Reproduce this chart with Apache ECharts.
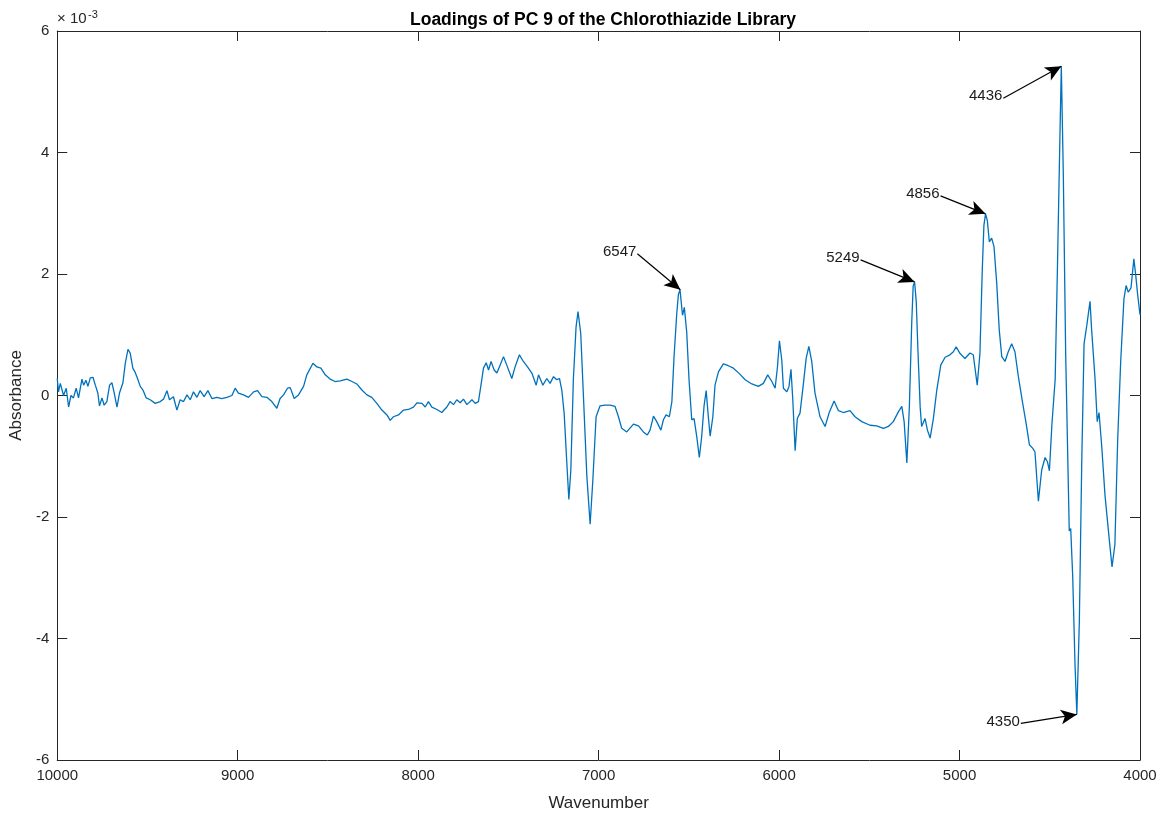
<!DOCTYPE html>
<html>
<head>
<meta charset="utf-8">
<script src="https://cdn.jsdelivr.net/npm/echarts@6/dist/echarts.min.js"></script>
<style>
html, body { margin: 0; padding: 0; background: #fff; }
#main { width: 1171px; height: 817px; }
</style>
</head>
<body>
<div id="main"></div>
<script>
// wavenumber (cm-1) and PC 9 loading, loading in units of 1e-3
var wavenumbers = [
  10000, 9993, 9983, 9965, 9950, 9937, 9924, 9910, 9895, 9882, 9863, 9854, 9841, 9830, 9817, 9802,
  9789, 9775, 9766, 9752, 9740, 9725, 9710, 9697, 9684, 9669, 9655, 9636, 9623, 9608, 9596, 9581,
  9568, 9555, 9540, 9525, 9507, 9485, 9457, 9429, 9411, 9392, 9378, 9356, 9337, 9319, 9300, 9281,
  9263, 9245, 9226, 9208, 9186, 9165, 9143, 9115, 9088, 9060, 9032, 9014, 8996, 8968, 8940, 8912,
  8890, 8866, 8838, 8811, 8783, 8765, 8746, 8724, 8709, 8687, 8663, 8635, 8617, 8583, 8561, 8539,
  8515, 8488, 8460, 8432, 8395, 8367, 8340, 8312, 8284, 8257, 8229, 8201, 8173, 8155, 8137, 8109,
  8081, 8054, 8026, 8007, 7979, 7961, 7943, 7924, 7896, 7869, 7841, 7823, 7804, 7786, 7767, 7749,
  7730, 7702, 7684, 7666, 7653, 7638, 7623, 7610, 7596, 7579, 7564, 7550, 7527, 7509, 7481, 7463,
  7439, 7417, 7394, 7370, 7346, 7333, 7309, 7287, 7269, 7250, 7232, 7217, 7204, 7191, 7176, 7165,
  7154, 7140, 7125, 7114, 7099, 7084, 7065, 7047, 7032, 7014, 6992, 6964, 6936, 6909, 6890, 6872,
  6844, 6807, 6779, 6752, 6730, 6715, 6696, 6678, 6655, 6641, 6626, 6608, 6594, 6582, 6567, 6558,
  6549, 6541, 6535, 6525, 6512, 6499, 6484, 6471, 6456, 6442, 6429, 6416, 6404, 6392, 6382, 6367,
  6355, 6336, 6309, 6281, 6253, 6220, 6188, 6151, 6115, 6087, 6063, 6040, 6022, 6009, 5998, 5985,
  5976, 5957, 5945, 5934, 5924, 5911, 5899, 5884, 5865, 5850, 5835, 5819, 5801, 5773, 5745, 5721,
  5695, 5671, 5644, 5607, 5579, 5542, 5496, 5459, 5422, 5394, 5367, 5339, 5320, 5307, 5292, 5278,
  5265, 5257, 5249, 5240, 5230, 5218, 5210, 5191, 5178, 5163, 5145, 5126, 5104, 5080, 5053, 5034,
  5019, 4997, 4970, 4942, 4924, 4902, 4887, 4874, 4865, 4856, 4846, 4835, 4822, 4809, 4794, 4780,
  4766, 4748, 4730, 4711, 4693, 4674, 4650, 4631, 4613, 4594, 4582, 4563, 4545, 4526, 4513, 4502,
  4488, 4470, 4457, 4443, 4436, 4425, 4412, 4397, 4392, 4384, 4373, 4360, 4350, 4336, 4323, 4310,
  4295, 4277, 4268, 4249, 4237, 4227, 4212, 4194, 4170, 4155, 4139, 4124, 4107, 4089, 4077, 4065,
  4050, 4034, 4023, 4013, 4000
];
var loadings = [
  0.28, 0.06, 0.2, 0.0, 0.12, -0.19, 0.0, -0.04, 0.12, -0.04, 0.27, 0.17, 0.25, 0.15, 0.29, 0.3,
  0.17, 0.04, -0.17, -0.04, -0.16, -0.1, 0.17, 0.21, 0.04, -0.19, 0.04, 0.21, 0.53, 0.76, 0.7, 0.45,
  0.38, 0.28, 0.15, 0.09, -0.04, -0.07, -0.13, -0.1, -0.06, 0.08, -0.07, -0.02, -0.24, -0.07, -0.1, 0.01,
  -0.07, 0.06, -0.03, 0.08, -0.02, 0.08, -0.05, -0.03, -0.05, -0.03, 0.0, 0.12, 0.04, 0.01, -0.03, 0.06,
  0.08, -0.02, -0.03, -0.1, -0.21, -0.05, 0.01, 0.12, 0.13, -0.05, 0.01, 0.15, 0.34, 0.53, 0.47, 0.45,
  0.34, 0.27, 0.23, 0.24, 0.27, 0.23, 0.19, 0.09, 0.01, -0.03, -0.13, -0.24, -0.32, -0.41, -0.35, -0.32,
  -0.24, -0.23, -0.19, -0.12, -0.13, -0.19, -0.1, -0.19, -0.23, -0.28, -0.19, -0.1, -0.15, -0.07, -0.12, -0.06,
  -0.15, -0.07, -0.13, -0.1, 0.15, 0.45, 0.54, 0.42, 0.56, 0.42, 0.37, 0.47, 0.64, 0.5, 0.28, 0.47,
  0.67, 0.56, 0.47, 0.37, 0.17, 0.34, 0.17, 0.28, 0.2, 0.31, 0.26, 0.28, 0.09, -0.29, -1.12, -1.71,
  -1.23, 0.26, 1.13, 1.38, 1.02, -0.02, -1.34, -2.12, -1.39, -0.35, -0.17, -0.16, -0.16, -0.18, -0.35, -0.54,
  -0.6, -0.47, -0.5, -0.6, -0.65, -0.57, -0.34, -0.43, -0.57, -0.4, -0.32, -0.35, -0.1, 0.64, 1.35, 1.66,
  1.74, 1.5, 1.32, 1.45, 1.05, 0.26, -0.4, -0.38, -0.68, -1.02, -0.68, -0.18, 0.08, -0.35, -0.67, -0.35,
  0.17, 0.39, 0.52, 0.49, 0.45, 0.36, 0.26, 0.19, 0.15, 0.2, 0.34, 0.23, 0.12, 0.47, 0.9, 0.58,
  0.12, 0.06, 0.15, 0.43, -0.07, -0.91, -0.38, -0.29, 0.2, 0.61, 0.81, 0.56, 0.04, -0.35, -0.51, -0.27,
  -0.09, -0.25, -0.28, -0.25, -0.35, -0.43, -0.49, -0.5, -0.54, -0.51, -0.43, -0.27, -0.18, -0.43, -1.11, -0.18,
  1.19, 1.8, 1.87, 1.55, 0.7, -0.2, -0.51, -0.38, -0.57, -0.7, -0.38, 0.09, 0.5, 0.63, 0.67, 0.72,
  0.8, 0.69, 0.61, 0.7, 0.67, 0.17, 0.69, 2.07, 2.8, 2.99, 2.88, 2.53, 2.59, 2.45, 1.85, 1.08,
  0.64, 0.56, 0.72, 0.85, 0.72, 0.31, -0.13, -0.46, -0.81, -0.87, -0.93, -1.74, -1.23, -1.02, -1.09, -1.24,
  -0.47, 0.27, 2.18, 4.38, 5.42, 3.65, 0.71, -1.5, -2.23, -2.19, -2.97, -4.44, -5.25, -3.7, -1.13, 0.85,
  1.15, 1.55, 1.08, 0.27, -0.43, -0.28, -0.84, -1.64, -2.38, -2.82, -2.45, -0.76, 0.56, 1.59, 1.81, 1.7,
  1.77, 2.25, 1.96, 1.66, 1.33
];

// annotated peaks
var peakWavenumbers = [6547, 5249, 4856, 4436, 4350];
var peakLoadings = [1.74, 1.87, 2.99, 5.42, -5.25];
var peakLabels = ['6547', '5249', '4856', '4436', '4350'];
// where each arrow's tail sits, in pixels from its tip
var arrowTailOffsets = [[-43, -36], [-54, -22], [-45, -18], [-58, 32], [-56, 9]];

var axisColor = '#262626';
var fontFamily = '"Liberation Sans", Arial, Helvetica, sans-serif';

var myChart = echarts.init(document.getElementById('main'));

var seriesData = wavenumbers.map(function (w, i) {
    return [w, loadings[i]];
});

function xAxisBase(pos) {
    return {
        type: 'value',
        position: pos,
        min: 4000,
        max: 10000,
        interval: 1000,
        inverse: true,
        axisLine: { onZero: false, lineStyle: { color: axisColor, width: 1 } },
        axisTick: { show: true, inside: true, length: 10, lineStyle: { color: axisColor } },
        splitLine: { show: false },
        axisLabel: { show: false }
    };
}
function yAxisBase(pos) {
    return {
        type: 'value',
        position: pos,
        min: -6,
        max: 6,
        interval: 2,
        axisLine: { show: true, onZero: false, lineStyle: { color: axisColor, width: 1 } },
        axisTick: { show: true, inside: true, length: 10, lineStyle: { color: axisColor } },
        splitLine: { show: false },
        axisLabel: { show: false }
    };
}

var xBottom = xAxisBase('bottom');
xBottom.axisLabel = {
    show: true, color: axisColor, fontSize: 15, fontFamily: fontFamily, margin: 8,
    formatter: function (v) { return String(v); }
};
xBottom.name = 'Wavenumber';
xBottom.nameLocation = 'middle';
xBottom.nameGap = 35;
xBottom.nameTextStyle = { color: axisColor, fontSize: 17, fontFamily: fontFamily };

var yLeft = yAxisBase('left');
yLeft.axisLabel = {
    show: true, color: axisColor, fontSize: 15, fontFamily: fontFamily, margin: 8,
    formatter: function (v) { return String(v); }
};
yLeft.name = 'Absorbance';
yLeft.nameLocation = 'middle';
yLeft.nameGap = 26;
yLeft.nameTextStyle = { color: axisColor, fontSize: 17, fontFamily: fontFamily };

var option = {
    animation: false,
    backgroundColor: '#fff',
    title: {
        text: 'Loadings of PC 9 of the Chlorothiazide Library',
        left: 598,
        textAlign: 'center',
        top: 6,
        textStyle: { color: '#000', fontSize: 17.5, fontWeight: 'bold', fontFamily: fontFamily }
    },
    grid: { left: 57, right: 31, top: 31, bottom: 57, containLabel: false },
    xAxis: [xBottom, xAxisBase('top')],
    yAxis: [yLeft, yAxisBase('right')],
    series: [
        {
            type: 'line',
            data: seriesData,
            xAxisIndex: 0,
            yAxisIndex: 0,
            showSymbol: false,
            symbol: 'none',
            lineStyle: { color: '#0072BD', width: 1.3 },
            itemStyle: { color: '#0072BD' },
            emphasis: { disabled: true },
            silent: true
        }
    ]
};

myChart.setOption(option);

// arrows and their labels, placed from the peaks through the axis scales
var arrowLines = [];
var graphics = [
    { type: 'text', x: 57, y: 26, style: { text: '\u00d7 10', fill: axisColor, font: '15px ' + fontFamily, textVerticalAlign: 'bottom', verticalAlign: 'bottom' } },
    { type: 'text', x: 88, y: 20, style: { text: '-3', fill: axisColor, font: '11px ' + fontFamily, textVerticalAlign: 'bottom', verticalAlign: 'bottom' } }
];
peakWavenumbers.forEach(function (w, i) {
    var tip = myChart.convertToPixel({ xAxisIndex: 0, yAxisIndex: 0 }, [w, peakLoadings[i]]);
    var tail = [tip[0] + arrowTailOffsets[i][0], tip[1] + arrowTailOffsets[i][1]];
    var tailCoord = myChart.convertFromPixel({ xAxisIndex: 0, yAxisIndex: 0 }, tail);
    arrowLines.push([{ coord: tailCoord }, { coord: [w, peakLoadings[i]] }]);
    graphics.push({
        type: 'text',
        x: tail[0] - 1,
        y: tail[1] - 2,
        style: {
            text: peakLabels[i],
            fill: '#1a1a1a',
            font: '15px ' + fontFamily,
            textAlign: 'right', align: 'right',
            textVerticalAlign: 'middle', verticalAlign: 'middle'
        }
    });
});

myChart.setOption({
    graphic: graphics,
    series: [{
        markLine: {
            silent: true,
            symbol: ['none', 'arrow'],
            symbolSize: [11, 16],
            label: { show: false },
            lineStyle: { color: '#000', width: 1.2, type: 'solid' },
            emphasis: { disabled: true },
            data: arrowLines
        }
    }]
});
</script>
</body>
</html>
